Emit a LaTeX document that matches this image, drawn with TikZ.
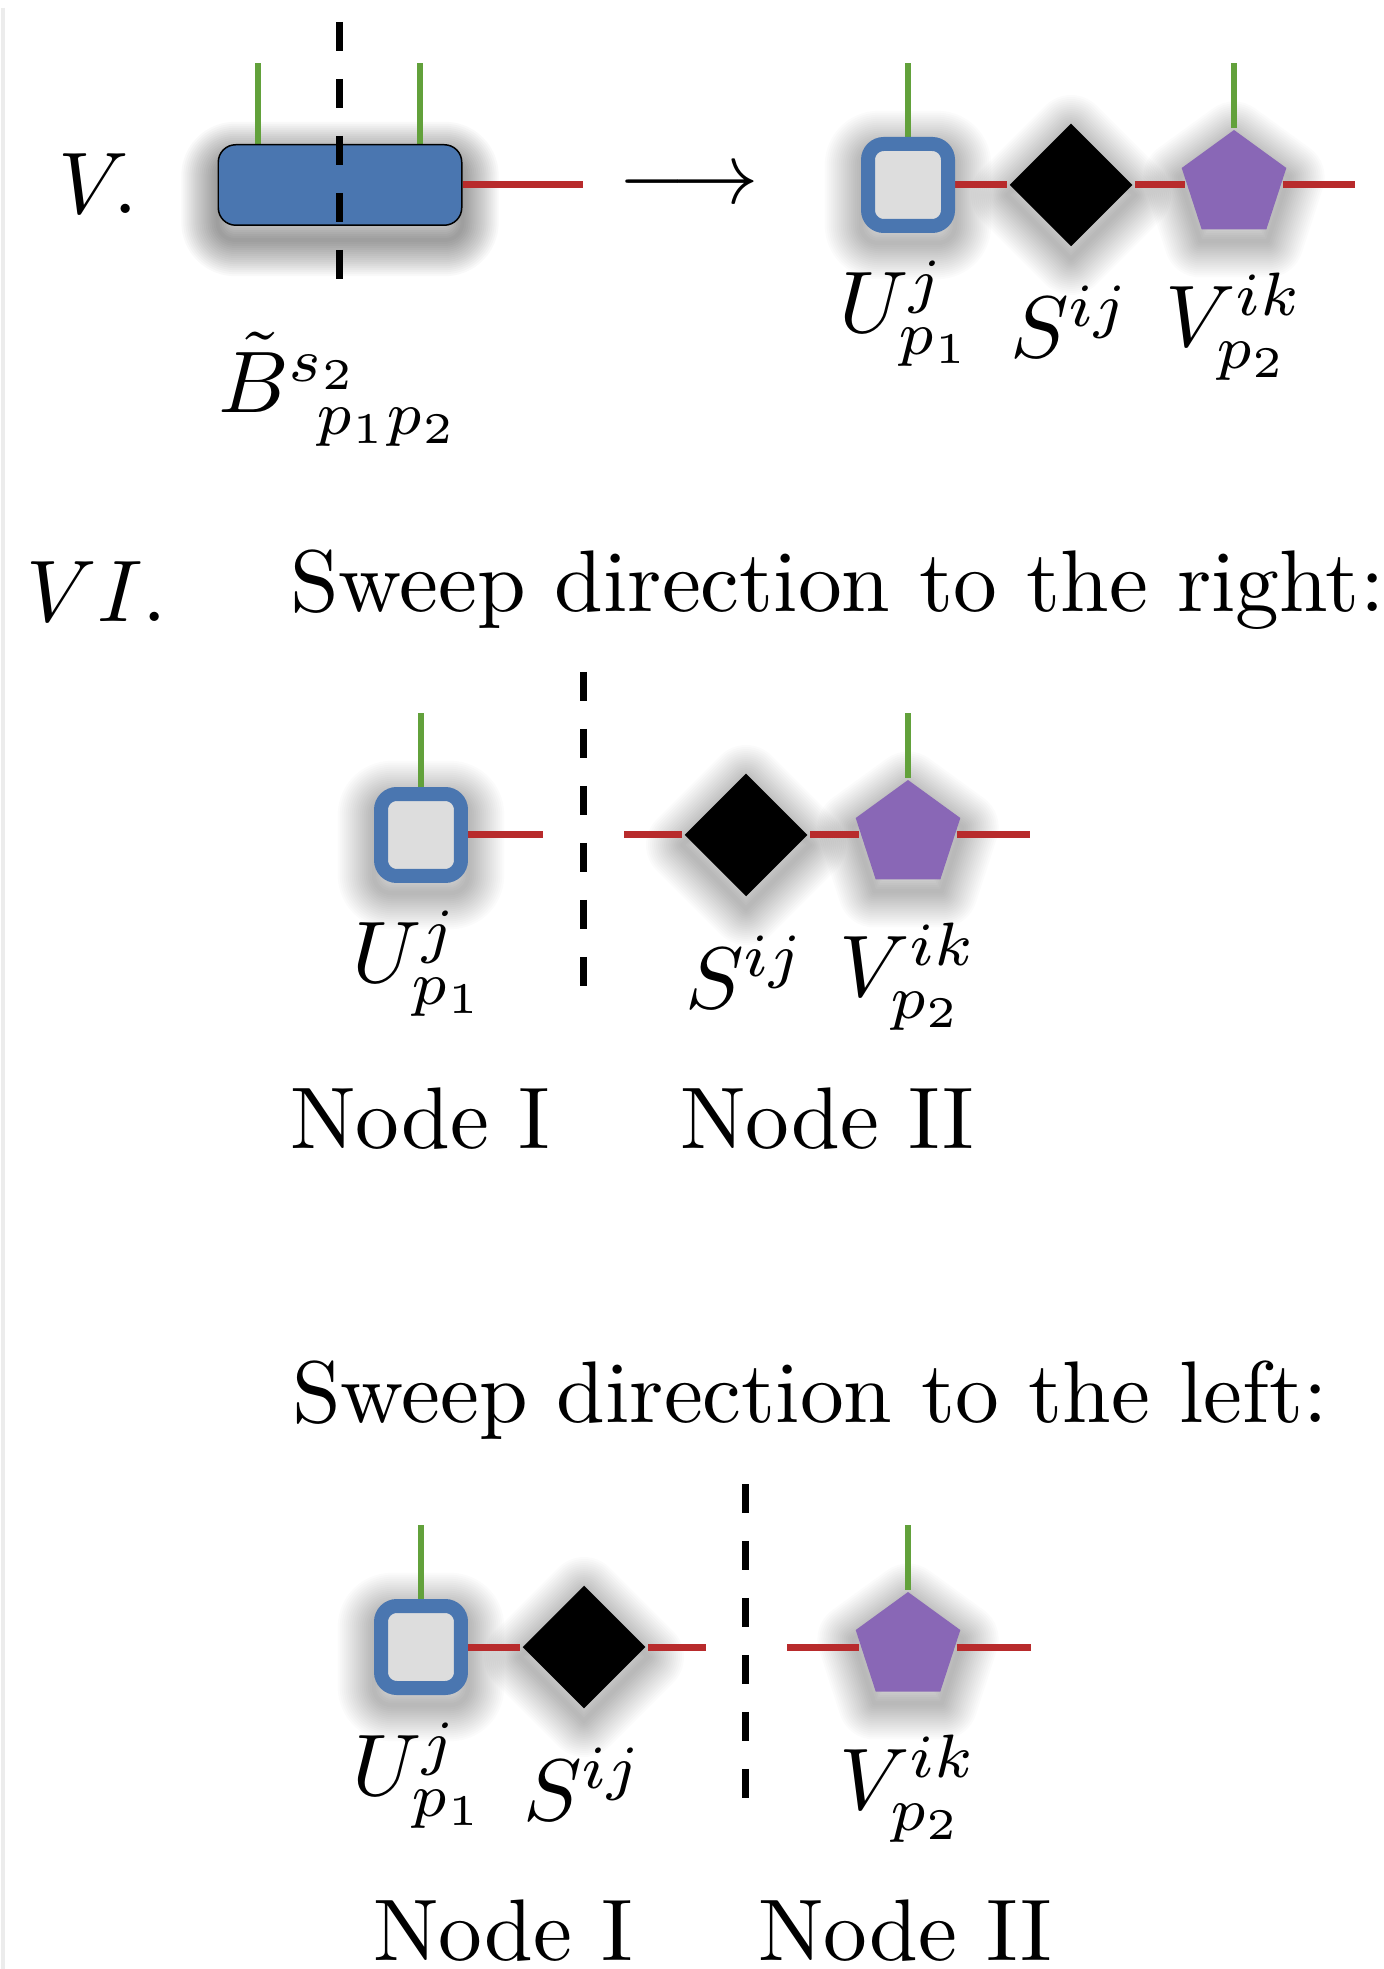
\documentclass[tikz,border=0pt]{standalone}
\usetikzlibrary{shapes.geometric,calc,backgrounds}
\definecolor{tblue}{HTML}{4A76B0}
\definecolor{tred}{HTML}{B82B2C}
\definecolor{tgreen}{HTML}{62A13B}
\definecolor{tpurple}{HTML}{8967B6}
\definecolor{tgray}{HTML}{DDDDDD}
% soft shadow: stacked translucent strokes of growing width
\newcommand{\softshadow}[2][0.015]{%
  \foreach \k in {1,...,18}{\draw[black,opacity=#1,line width=\k*0.46pt,line join=round] #2;}}
\begin{document}
\begin{tikzpicture}[x=0.1142857pt,y=-0.1142857pt,
  txt/.style={inner sep=0pt,outer sep=0pt,anchor=base west},
  usq/.style={rectangle,draw=tblue,fill=tgray,line width=1.6pt,minimum width=9.14pt,minimum height=9.37pt,rounded corners=1.8pt,inner sep=0pt},
  sdia/.style={diamond,fill=black,minimum width=14.17pt,minimum height=14.17pt,inner sep=0pt},
  vpent/.style={regular polygon,regular polygon sides=5,fill=tpurple,minimum size=12.57pt,inner sep=0pt},
  brect/.style={rectangle,draw=black,line width=0.17pt,fill=tblue,minimum width=27.83pt,minimum height=9.2pt,rounded corners=2pt,inner sep=0pt},
  bond/.style={draw=tred,line width=0.8pt},
  leg/.style={draw=tgreen,line width=0.69pt},
  cut/.style={draw=black,line width=0.8pt,dash pattern=on 3.31pt off 3.2pt},
]
\useasboundingbox (0,0) rectangle (1384,1969);

% ---------- Section V ----------
\node[txt] (tV) at (58,214) {$V.$};
\node[brect] (b) at (340,185) {};
\coordinate (bl) at (258,63);
\coordinate (br) at (420,63);
\coordinate (be) at (583,185);
\coordinate (c1a) at (339,22);
\coordinate (c1b) at (339,279);
\draw[cut] (c1a) -- (c1b);
\node[txt] (tB) at (218,413) {$\tilde{B}^{s_2}_{\mkern8mu p_1p_2}$};
\node[inner sep=0pt,anchor=base] (arr) at (689,204) {$\longrightarrow$};

\node[usq] (u1) at (908,185) {};
\node[sdia] (s1) at (1071,185) {};
\node[vpent] (v1) at (1234,185) {};
\coordinate (ut1) at (908,63);
\coordinate (vt1) at (1234,63);
\coordinate (e1) at (1355,185);
\node[txt] (lu1) at ($(u1)+(-69,148)$) {$U_{p_1}^j$};
\node[txt] (ls1) at ($(s1)+(-61,173)$) {$S^{ij}$};
\node[txt] (lv1) at ($(v1)+(-69,162)$) {$V_{p_2}^{ik}$};

% ---------- Section VI, right sweep ----------
\node[txt] (tVI) at (27,622) {$VI.$};
\node[txt] (sw1) at (290,612) {Sweep direction to the right:};

\node[usq] (u2) at (421,835) {};
\node[sdia] (s2) at (746,835) {};
\node[vpent] (v2) at (908,835) {};
\coordinate (ut2) at (421,713);
\coordinate (vt2) at (908,713);
\coordinate (a2) at (543,835);
\coordinate (b2) at (624,835);
\coordinate (e2) at (1030,835);
\coordinate (c2a) at (583,672);
\coordinate (c2b) at (583,986);
\draw[cut] (c2a) -- (c2b);
\node[txt] (lu2) at ($(u2)+(-69,148)$) {$U_{p_1}^j$};
\node[txt] (ls2) at ($(s2)+(-61,173)$) {$S^{ij}$};
\node[txt] (lv2) at ($(v2)+(-69,162)$) {$V_{p_2}^{ik}$};
\node[txt] (n1a) at (290,1148) {Node I};
\node[txt] (n2a) at (680,1148) {Node II};

% ---------- Section VI, left sweep ----------
\node[txt] (sw2) at (292,1422) {Sweep direction to the left:};
\node[usq] (u3) at (421,1647) {};
\node[sdia] (s3) at (584,1647) {};
\node[vpent] (v3) at (908,1647) {};
\coordinate (ut3) at (421,1525);
\coordinate (vt3) at (908,1525);
\coordinate (a3) at (706,1647);
\coordinate (b3) at (787,1647);
\coordinate (e3) at (1031,1647);
\coordinate (c3a) at (745,1484);
\coordinate (c3b) at (745,1798);
\draw[cut] (c3a) -- (c3b);
\node[txt] (lu3) at ($(u3)+(-69,148)$) {$U_{p_1}^j$};
\node[txt] (ls3) at ($(s3)+(-61,173)$) {$S^{ij}$};
\node[txt] (lv3) at ($(v3)+(-69,162)$) {$V_{p_2}^{ik}$};
\node[txt] (n1b) at (373,1960) {Node I};
\node[txt] (n2b) at (758,1960) {Node II};

% ---------- shadows, bonds and legs (behind the shapes) ----------
\begin{scope}[on background layer]
  \fill[white] (0,0) rectangle (1384,1969);
  \draw[gray!15,line width=0.5pt] (3,8) -- (3,1969);
  % soft shadows
  \softshadow[0.025]{[rounded corners=2pt] ($(b.south west)+(0,14)$) rectangle ($(b.north east)+(0,14)$)}
  \foreach \n in {u1,u2,u3}{
    \softshadow{[rounded corners=2pt] ($(\n.south west)+(0,10)$) rectangle ($(\n.north east)+(0,10)$)}
  }
  \foreach \n in {s1,s2,s3}{
    \softshadow{($(\n.north)+(0,10)$) -- ($(\n.east)+(0,10)$) -- ($(\n.south)+(0,10)$) -- ($(\n.west)+(0,10)$) -- cycle}
  }
  \foreach \n in {v1,v2,v3}{
    \softshadow{($(\n.corner 1)+(0,10)$) -- ($(\n.corner 2)+(0,10)$) -- ($(\n.corner 3)+(0,10)$) -- ($(\n.corner 4)+(0,10)$) -- ($(\n.corner 5)+(0,10)$) -- cycle}
  }
  % connectors
  \draw[leg] (bl |- b.north) -- (bl);
  \draw[leg] (br |- b.north) -- (br);
  \draw[bond] (b.east) -- (be);
  \draw[bond] (u1) -- (s1) -- (v1) -- (e1);
  \draw[leg] (u1) -- (ut1);
  \draw[leg] (v1) -- (vt1);
  \draw[bond] (u2) -- (a2);
  \draw[bond] (b2) -- (s2) -- (v2) -- (e2);
  \draw[leg] (u2) -- (ut2);
  \draw[leg] (v2) -- (vt2);
  \draw[bond] (u3) -- (s3) -- (a3);
  \draw[bond] (b3) -- (v3) -- (e3);
  \draw[leg] (u3) -- (ut3);
  \draw[leg] (v3) -- (vt3);
\end{scope}
\end{tikzpicture}
\end{document}
